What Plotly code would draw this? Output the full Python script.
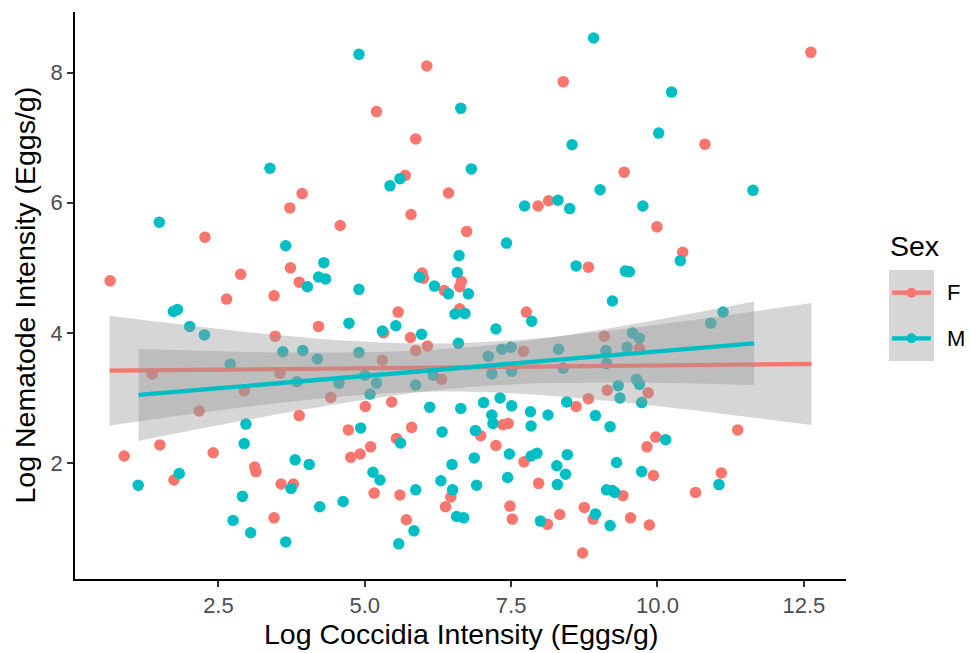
import plotly.graph_objects as go

# ---------------- data ----------------
f_x = [3.93, 3.72, 2.27, 4.58, 3.73, 2.88, 3.88, 0.65, 2.64, 3.45,
       6.06, 8.39, 5.20, 5.87, 5.69, 6.43, 5.79, 7.96, 8.14, 6.74,
       8.82, 5.98, 6.00, 6.36, 6.65, 6.62, 5.57, 6.62, 7.76, 12.62,
       10.81, 9.43, 9.99, 10.43, 4.21, 3.47, 1.37, 3.55, 2.94, 4.42,
       2.17, 3.88, 1.50, 2.41, 0.89, 3.12, 3.14, 1.74, 3.57, 3.78,
       3.45, 5.32, 5.78, 6.07, 5.30, 5.87, 7.71, 6.31, 5.01, 5.46,
       7.36, 7.45, 8.61, 4.72, 6.98, 5.80, 5.54, 7.24, 5.10, 4.92,
       4.76, 7.72, 7.97, 6.47, 6.38, 5.16, 5.60, 7.48, 7.52, 5.71,
       8.12, 8.33, 8.75, 8.90, 8.72, 9.09, 9.69, 9.14, 9.84, 8.82,
       11.37, 9.97, 9.82, 9.93, 11.09, 10.65, 9.41, 9.54, 9.86]
f_y = [6.14, 5.92, 5.47, 5.65, 5.00, 4.90, 4.78, 4.80, 4.52, 4.57,
       8.10, 7.86, 7.40, 6.98, 6.42, 6.15, 5.82, 5.95, 6.03, 5.56,
       5.01, 4.92, 4.84, 4.65, 4.79, 4.71, 4.32, 4.37, 4.32, 8.31,
       6.90, 6.47, 5.63, 5.24, 4.10, 3.95, 3.37, 3.38, 3.11, 3.01,
       2.80, 2.73, 2.28, 2.16, 2.11, 1.94, 1.87, 1.74, 1.68, 1.68,
       1.16, 4.00, 3.93, 3.80, 3.58, 3.73, 3.72, 3.29, 2.87, 2.94,
       2.59, 2.61, 2.87, 2.51, 2.42, 2.55, 2.38, 2.27, 2.25, 2.14,
       2.09, 2.02, 1.69, 1.48, 1.33, 1.54, 1.51, 1.34, 1.14, 1.13,
       1.06, 1.21, 1.32, 1.14, 0.62, 3.95, 3.76, 3.12, 3.08, 2.99,
       2.51, 2.40, 2.25, 1.81, 1.85, 1.55, 1.50, 1.16, 1.05]

m_x = [3.38, 1.49, 3.65, 4.30, 4.21, 4.33, 4.02, 1.73, 1.80, 4.90,
       6.64, 8.54, 6.82, 5.60, 5.43, 7.73, 8.30, 8.50, 7.42, 6.61,
       8.61, 4.90, 6.58, 5.93, 6.19, 6.43, 6.77, 8.91, 10.24, 10.02,
       9.02, 11.63, 9.75, 10.39, 9.45, 9.52, 9.23, 11.12, 10.91, 2.01,
       2.26, 3.60, 3.94, 4.19, 2.70, 3.84, 2.97, 2.94, 3.81, 4.05,
       1.83, 1.13, 3.74, 2.91, 4.23, 2.75, 3.05, 3.65, 4.73, 5.53,
       5.30, 5.97, 6.60, 6.54, 6.71, 7.24, 7.85, 4.90, 7.11, 7.34,
       7.50, 8.31, 8.39, 5.00, 4.56, 5.20, 5.09, 5.87, 6.17, 7.17,
       7.51, 6.11, 6.64, 7.03, 7.31, 7.51, 7.17, 7.19, 7.83, 7.84,
       8.13, 8.45, 4.93, 6.32, 6.89, 5.61, 7.47, 6.87, 7.84, 7.94,
       8.46, 6.49, 8.28, 8.43, 5.14, 5.26, 6.30, 7.44, 6.91, 8.29,
       6.50, 5.87, 4.63, 6.57, 6.69, 5.84, 5.58, 8.00, 8.94, 9.57,
       9.69, 9.48, 9.12, 9.13, 9.64, 9.69, 9.33, 9.36, 9.73, 8.94,
       9.19, 10.14, 9.30, 9.73, 11.05, 9.13, 9.23, 9.27, 9.19]
m_y = [6.53, 5.70, 5.34, 5.08, 4.86, 4.83, 4.71, 4.33, 4.36, 8.28,
       7.45, 6.89, 6.52, 6.37, 6.26, 5.95, 6.04, 5.91, 5.38, 5.19,
       5.03, 4.67, 4.93, 4.86, 4.72, 4.60, 4.60, 8.53, 7.70, 7.07,
       6.20, 6.19, 5.95, 5.11, 4.95, 4.94, 4.49, 4.32, 4.15, 4.10,
       3.97, 3.71, 3.73, 3.60, 3.52, 3.25, 2.60, 2.30, 2.05, 1.98,
       1.84, 1.66, 1.61, 1.49, 1.33, 1.12, 0.93, 0.79, 4.15, 4.11,
       4.03, 3.98, 3.84, 4.29, 4.30, 4.06, 4.18, 3.70, 3.64, 3.75,
       3.78, 3.75, 3.46, 3.35, 3.23, 3.23, 3.06, 3.20, 3.35, 3.37,
       3.41, 2.86, 2.84, 2.93, 3.00, 2.88, 2.74, 2.61, 2.79, 2.57,
       2.74, 2.94, 2.54, 2.48, 2.50, 2.31, 2.14, 2.08, 2.11, 2.15,
       2.13, 1.98, 1.96, 1.83, 1.86, 1.74, 1.73, 1.78, 1.66, 1.67,
       1.59, 1.59, 1.41, 1.18, 1.16, 0.96, 0.76, 1.11, 1.22, 4.00,
       3.92, 3.78, 3.73, 3.53, 3.29, 3.21, 3.19, 3.00, 2.93, 2.73,
       2.56, 2.36, 2.01, 1.87, 1.67, 1.59, 1.58, 1.55, 1.04]

# linear fits with 95% confidence bands
f_fit_x = [0.64, 2.0, 3.5, 5.0, 6.26, 7.5, 9.0, 10.5, 12.63]
f_fit_y = [3.420, 3.432, 3.445, 3.457, 3.468, 3.479, 3.492, 3.505, 3.523]
f_fit_hi = [4.264, 4.115, 3.969, 3.863, 3.836, 3.884, 4.014, 4.186, 4.459]
f_fit_lo = [2.576, 2.749, 2.921, 3.051, 3.100, 3.074, 2.970, 2.824, 2.587]

m_fit_x = [1.134, 2.5, 4.0, 5.5, 6.715, 8.0, 9.5, 11.65]
m_fit_y = [3.047, 3.150, 3.263, 3.377, 3.469, 3.566, 3.679, 3.841]
m_fit_hi = [3.753, 3.720, 3.699, 3.714, 3.776, 3.906, 4.120, 4.481]
m_fit_lo = [2.341, 2.580, 2.827, 3.040, 3.162, 3.226, 3.238, 3.201]

x_ticks = [2.5, 5.0, 7.5, 10.0, 12.5]
x_ticklabels = ["2.5", "5.0", "7.5", "10.0", "12.5"]
y_ticks = [2, 4, 6, 8]
y_ticklabels = ["2", "4", "6", "8"]
groups = ["F", "M"]

# ---------------- styling ----------------
RED = "#F8766D"
CYAN = "#00BFC4"
BAND = "rgba(153,153,153,0.4)"
FONT = "Liberation Sans, Arial, Helvetica, sans-serif"
TICK_SIZE = 22
TITLE_SIZE = 28.5

W, H = 971, 653
L, R, T, B = 75, 125, 12, 74
PW, PH = W - L - R, H - T - B


def px2paper_x(px):
    return (px - L) / PW


def px2paper_y(py):
    return (H - B - py) / PH


fig = go.Figure()

fig.add_trace(go.Scatter(x=f_x, y=f_y, mode="markers",
                         marker=dict(color=RED, size=11.5, line=dict(width=0)),
                         showlegend=False, hoverinfo="skip"))
fig.add_trace(go.Scatter(x=m_x, y=m_y, mode="markers",
                         marker=dict(color=CYAN, size=11.5, line=dict(width=0)),
                         showlegend=False, hoverinfo="skip"))

for fx, fy, hi, lo, col in [(f_fit_x, f_fit_y, f_fit_hi, f_fit_lo, RED),
                             (m_fit_x, m_fit_y, m_fit_hi, m_fit_lo, CYAN)]:
    fig.add_trace(go.Scatter(x=fx, y=lo, mode="lines",
                             line=dict(width=0, shape="spline", smoothing=1.0),
                             showlegend=False, hoverinfo="skip"))
    fig.add_trace(go.Scatter(x=fx, y=hi, mode="lines", fill="tonexty",
                             fillcolor=BAND,
                             line=dict(width=0, shape="spline", smoothing=1.0),
                             showlegend=False, hoverinfo="skip"))
    fig.add_trace(go.Scatter(x=fx, y=fy, mode="lines",
                             line=dict(color=col, width=4.3),
                             showlegend=False, hoverinfo="skip"))

axis_common = dict(showgrid=False, zeroline=False, showline=True,
                   linecolor="black", linewidth=1.6, ticks="outside",
                   ticklen=6, tickwidth=1.5, tickcolor="#333333",
                   tickfont=dict(family=FONT, size=TICK_SIZE, color="#4D4D4D"),
                   mirror=False)

fig.update_xaxes(range=[0.05, 13.22], tickvals=x_ticks,
                 ticktext=x_ticklabels, **axis_common)
fig.update_yaxes(range=[0.22, 8.93], tickvals=y_ticks,
                 ticktext=y_ticklabels, **axis_common)

shapes = []
annotations = []

# legend key background
shapes.append(dict(type="rect", xref="paper", yref="paper",
                   x0=px2paper_x(889), x1=px2paper_x(934),
                   y0=px2paper_y(361), y1=px2paper_y(270),
                   fillcolor=BAND, line=dict(width=0), layer="above"))
key_y = [292.7, 338.3]
for g, col, ky in zip(groups, [RED, CYAN], key_y):
    shapes.append(dict(type="line", xref="paper", yref="paper",
                       x0=px2paper_x(892), x1=px2paper_x(931),
                       y0=px2paper_y(ky), y1=px2paper_y(ky),
                       line=dict(color=col, width=4.3), layer="above"))
    shapes.append(dict(type="circle", xref="paper", yref="paper",
                       x0=px2paper_x(906.5), x1=px2paper_x(916.5),
                       y0=px2paper_y(ky + 5), y1=px2paper_y(ky - 5),
                       fillcolor=col, line=dict(width=0), layer="above"))
    annotations.append(dict(text=g, xref="paper", yref="paper",
                            x=px2paper_x(945), y=px2paper_y(ky),
                            xanchor="left", yanchor="middle", showarrow=False,
                            font=dict(family=FONT, size=TICK_SIZE, color="black")))

annotations.append(dict(text="Sex", xref="paper", yref="paper",
                        x=px2paper_x(888), y=px2paper_y(246),
                        xanchor="left", yanchor="middle", showarrow=False,
                        font=dict(family=FONT, size=TITLE_SIZE, color="black")))

annotations.append(dict(text="Log Coccidia Intensity (Eggs/g)", xref="paper",
                        yref="paper", x=0.5, y=px2paper_y(634),
                        xanchor="center", yanchor="middle", showarrow=False,
                        font=dict(family=FONT, size=TITLE_SIZE, color="black")))
annotations.append(dict(text="Log Nematode Intensity (Eggs/g)", xref="paper",
                        yref="paper", x=px2paper_x(24), y=0.5, textangle=-90,
                        xanchor="center", yanchor="middle", showarrow=False,
                        font=dict(family=FONT, size=TITLE_SIZE, color="black")))

fig.update_layout(width=W, height=H,
                  margin=dict(l=L, r=R, t=T, b=B, pad=0),
                  paper_bgcolor="white", plot_bgcolor="white",
                  shapes=shapes, annotations=annotations,
                  showlegend=False,
                  font=dict(family=FONT))

fig.write_html("out.html", config={"displayModeBar": False})
